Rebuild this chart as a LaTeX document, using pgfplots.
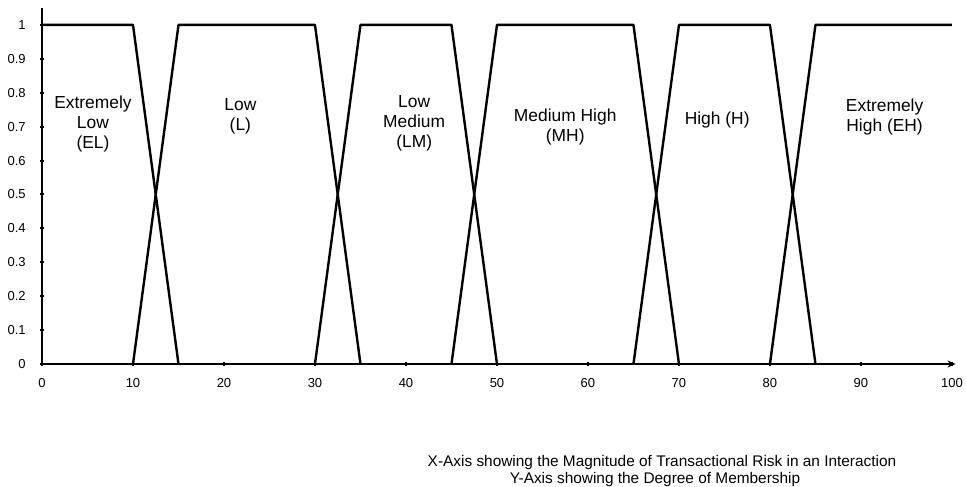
\documentclass[border=0pt]{standalone}
\usepackage{pgfplots}
\pgfplotsset{compat=1.18}
\usepackage{fontspec}
\setmainfont{Liberation Sans}
\usetikzlibrary{arrows.meta}

\begin{document}
\begin{tikzpicture}
% page frame: 1px of the reference = 0.5pt
\path[use as bounding box] (0,0) rectangle (483pt,243.5pt);
\begin{axis}[
  at={(21pt,61.5pt)}, anchor=south west,
  scale only axis,
  width=456.8pt, height=178pt,
  xmin=0, xmax=100.4,
  ymin=0, ymax=1.05,
  axis x line*=bottom,
  axis y line*=left,
  x axis line style={line width=1pt, -{Stealth[length=4pt,width=3.5pt]}},
  y axis line style={line width=1pt},
  xtick={0,10,20,30,40,50,60,70,80,90,100},
  ytick={0,0.1,0.2,0.3,0.4,0.5,0.6,0.7,0.8,0.9,1},
  yticklabels={0,0.1,0.2,0.3,0.4,0.5,0.6,0.7,0.8,0.9,1},
  tick align=center,
  major tick length=2pt,
  tick style={black, line width=1pt},
  /pgf/number format/assume math mode=true,
  ticklabel style={font=\fontsize{6.5}{7}\selectfont},
  xticklabel style={anchor=north, inner sep=0pt, yshift=-6pt},
  yticklabel style={anchor=east, inner sep=0pt, xshift=-7pt},
  clip=false,
  mf/.style={black, solid, no markers, line width=1.2pt, line join=round},
]
\addplot[mf] coordinates {(0,1) (10,1) (15,0)};
\addplot[mf] coordinates {(10,0) (15,1) (30,1) (35,0)};
\addplot[mf] coordinates {(30,0) (35,1) (45,1) (50,0)};
\addplot[mf] coordinates {(45,0) (50,1) (65,1) (70,0)};
\addplot[mf] coordinates {(65,0) (70,1) (80,1) (85,0)};
\addplot[mf] coordinates {(80,0) (85,1) (100,1)};

\begin{scope}[every node/.style={align=center, font=\fontsize{8.7}{10}\selectfont}]
\node at (axis cs:5.6,0.708) {Extremely\\Low\\(EL)};
\node at (axis cs:21.8,0.730) {Low\\(L)};
\node at (axis cs:40.9,0.711) {Low\\Medium\\(LM)};
\node at (axis cs:57.5,0.698) {Medium High\\(MH)};
\node at (axis cs:74.2,0.720) {High (H)};
\node at (axis cs:92.6,0.729) {Extremely\\High (EH)};
\end{scope}
\end{axis}
\node[anchor=base, font=\fontsize{7.7}{8.5}\selectfont, inner sep=0pt] at (331pt,10.3pt)
  {X-Axis showing the Magnitude of Transactional Risk in an Interaction};
\node[anchor=base, font=\fontsize{7.7}{8.5}\selectfont, inner sep=0pt] at (327.5pt,1.8pt)
  {Y-Axis showing the Degree of Membership};
\end{tikzpicture}
\end{document}
